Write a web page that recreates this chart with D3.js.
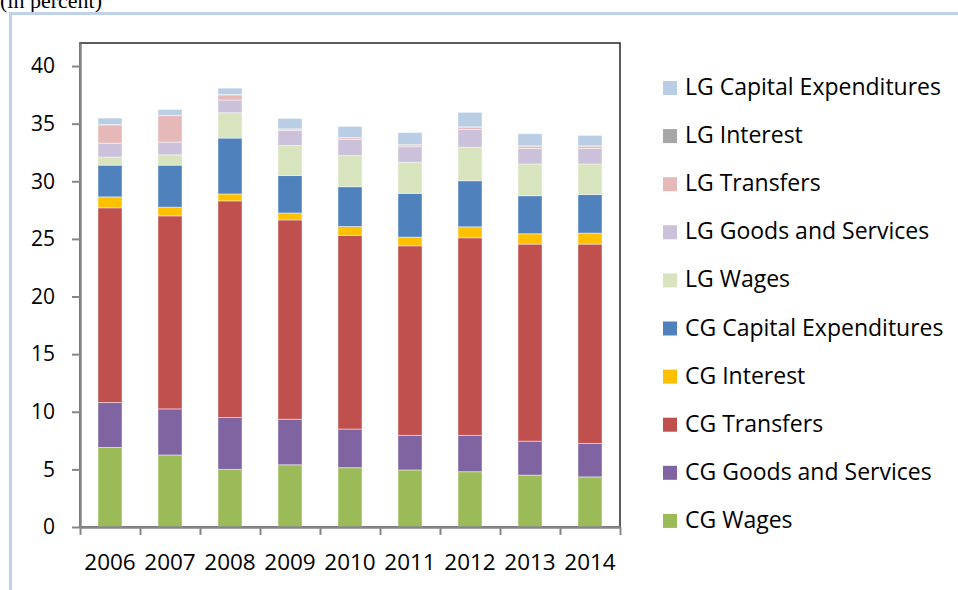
<!DOCTYPE html>
<html>
<head>
<meta charset="utf-8">
<script src="https://cdn.jsdelivr.net/npm/d3@7"></script>
<style>
  body { margin: 0; background: #fff; }
  svg text { font-family: "Open Sans", sans-serif; fill: #000; }
</style>
</head>
<body>
<div id="chart"></div>
<script>
// data (percent)
const years = ["2006", "2007", "2008", "2009", "2010", "2011", "2012", "2013", "2014"];
const cgWages     = [6.9, 6.25, 5.0, 5.4, 5.15, 4.95, 4.8, 4.5, 4.35];
const cgGoods     = [3.9, 4.0, 4.5, 3.95, 3.35, 3.0, 3.15, 2.95, 2.9];
const cgTransfers = [16.9, 16.75, 18.8, 17.3, 16.8, 16.45, 17.15, 17.1, 17.3];
const cgInterest  = [0.95, 0.75, 0.6, 0.6, 0.78, 0.75, 0.95, 0.9, 0.95];
const cgCapex     = [2.75, 3.65, 4.85, 3.25, 3.45, 3.8, 4.0, 3.3, 3.35];
const lgWages     = [0.7, 0.9, 2.2, 2.6, 2.7, 2.7, 2.9, 2.75, 2.65];
const lgGoods     = [1.2, 1.1, 1.1, 1.3, 1.4, 1.35, 1.55, 1.35, 1.35];
const lgTransfers = [1.6, 2.3, 0.45, 0.12, 0.15, 0.15, 0.2, 0.2, 0.2];
const lgInterest  = [0.03, 0.03, 0.03, 0.03, 0.03, 0.03, 0.03, 0.03, 0.03];
const lgCapex     = [0.55, 0.5, 0.55, 0.9, 0.95, 1.05, 1.25, 1.05, 0.9];
const yTicks = [0, 5, 10, 15, 20, 25, 30, 35, 40];

const series = [
  {key: "CG Wages", values: cgWages, color: "#9bbb59"},
  {key: "CG Goods and Services", values: cgGoods, color: "#8064a2"},
  {key: "CG Transfers", values: cgTransfers, color: "#c0504d"},
  {key: "CG Interest", values: cgInterest, color: "#ffc000"},
  {key: "CG Capital Expenditures", values: cgCapex, color: "#4f81bd"},
  {key: "LG Wages", values: lgWages, color: "#d7e4bd"},
  {key: "LG Goods and Services", values: lgGoods, color: "#ccc1da"},
  {key: "LG Transfers", values: lgTransfers, color: "#e6b9b8"},
  {key: "LG Interest", values: lgInterest, color: "#a6a6a6"},
  {key: "LG Capital Expenditures", values: lgCapex, color: "#b9cde5"}
];

const width = 958, height = 590;
const svg = d3.select("#chart").append("svg").attr("width", width).attr("height", height);

// caption, cut off at the top as in the source, and the light blue frame
svg.append("text").attr("x", 0).attr("y", 8)
   .style("font-family", "'Liberation Serif', serif").style("font-size", "22px")
   .text("(in percent)");
svg.append("rect").attr("x", 10.5).attr("y", 13.5).attr("width", 1000).attr("height", 1000)
   .attr("fill", "none").attr("stroke", "#bfd2ea").attr("stroke-width", 3);

const plot = {left: 80, right: 620, top: 43, bottom: 527};

const x = d3.scaleBand().domain(years).range([plot.left, plot.right]).paddingInner(0.6).paddingOuter(0.3);
const y = d3.scaleLinear().domain([0, 42]).range([plot.bottom, plot.top]);

const rows = years.map(function(yr, i) {
  const r = {year: yr};
  series.forEach(function(s) { r[s.key] = s.values[i]; });
  return r;
});
const stacked = d3.stack().keys(series.map(s => s.key))(rows);

// plot area border
svg.append("rect").attr("x", plot.left).attr("y", plot.top)
   .attr("width", plot.right - plot.left).attr("height", plot.bottom - plot.top)
   .attr("fill", "none").attr("stroke", "#262626").attr("stroke-width", 1.5);

stacked.forEach(function(layer, li) {
  svg.append("g").selectAll("rect")
     .data(layer)
     .enter().append("rect")
     .attr("x", d => x(d.data.year))
     .attr("width", x.bandwidth())
     .attr("y", d => y(d[1]))
     .attr("height", d => y(d[0]) - y(d[1]))
     .attr("fill", series[li].color)
     .attr("stroke", "#fff").attr("stroke-opacity", 0.45).attr("stroke-width", 1);
});

// y axis
const yAxis = svg.append("g").attr("transform", "translate(" + plot.left + ",0)")
   .call(d3.axisLeft(y).tickValues(yTicks).tickSize(8).tickSizeOuter(0).tickPadding(17));
yAxis.selectAll("text").style("font-size", "21px");

// x axis: ticks on the category boundaries, labels centred
const xb = d3.scaleLinear().domain([0, years.length]).range([plot.left, plot.right]);
svg.append("g").attr("transform", "translate(0," + plot.bottom + ")")
   .call(d3.axisBottom(xb).tickValues(d3.range(years.length + 1)).tickSize(8).tickSizeOuter(0).tickFormat(""));
const xAxis = svg.append("g").attr("transform", "translate(0," + plot.bottom + ")")
   .call(d3.axisBottom(x).tickSize(0).tickPadding(27));
xAxis.select(".domain").remove();
xAxis.selectAll("text").style("font-size", "22.5px");

svg.selectAll(".domain").attr("stroke", "#868686").attr("stroke-width", 2.5);
svg.selectAll(".tick line").attr("stroke", "#868686").attr("stroke-width", 2);

// legend, top entry is the last series
const legend = svg.append("g").selectAll("g")
   .data(series.slice().reverse())
   .enter().append("g")
   .attr("transform", (d, i) => "translate(663," + (95 + i * 48.1) + ")");
legend.append("rect").attr("x", 0).attr("y", -14).attr("width", 14).attr("height", 14)
   .attr("fill", d => d.color);
legend.append("text").attr("x", 22).attr("y", 0).style("font-size", "23px").text(d => d.key);
</script>
</body>
</html>
